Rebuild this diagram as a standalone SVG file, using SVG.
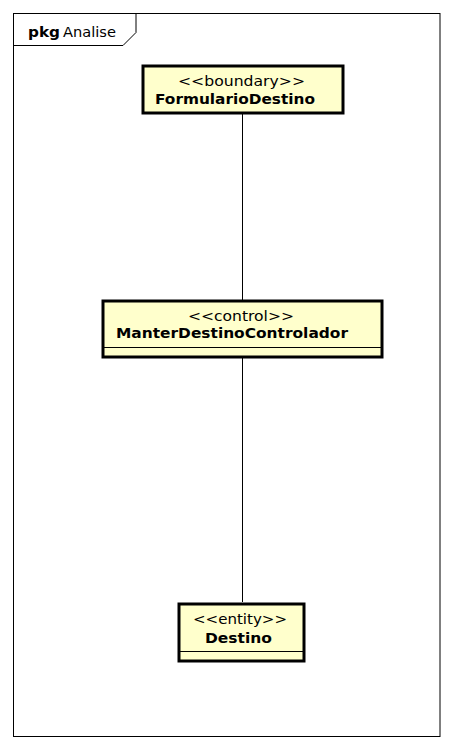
<svg xmlns="http://www.w3.org/2000/svg" width="453" height="750" viewBox="0 0 453 750">
<style>
.cls{fill:#ffffcc;stroke:#000;stroke-width:3}
.sep{stroke:#000;stroke-width:1}
.st{font-family:"DejaVu Sans",sans-serif;font-size:14px;fill:#000}
.nm{font-family:"DejaVu Sans",sans-serif;font-size:14px;font-weight:bold;fill:#000}
.conn{stroke:#000;stroke-width:1;fill:none}
</style>
<rect x="0" y="0" width="453" height="750" fill="#fff"/>
<g id="frame">
<rect x="13.5" y="13.5" width="426.5" height="723" fill="none" stroke="#000" stroke-width="1"/>
<path d="M13.5 45.5 H123 L136 32.5 V13.5" fill="none" stroke="#000" stroke-width="1"/>
<text class="nm" x="28" y="37" textLength="32" lengthAdjust="spacingAndGlyphs">pkg</text>
<text class="st" x="63" y="37" textLength="53" lengthAdjust="spacingAndGlyphs">Analise</text>
</g>
<g id="connectors">
<line class="conn" x1="242.5" y1="114" x2="242.5" y2="300"/>
<line class="conn" x1="242.5" y1="358" x2="242.5" y2="602"/>
</g>
<g id="FormularioDestino">
<rect class="cls" x="143" y="66" width="200" height="47"/>
<text class="st" x="178" y="86" textLength="127" lengthAdjust="spacingAndGlyphs">&lt;&lt;boundary&gt;&gt;</text>
<text class="nm" x="155" y="104" textLength="160" lengthAdjust="spacingAndGlyphs">FormularioDestino</text>
</g>
<g id="ManterDestinoControlador">
<rect class="cls" x="103" y="301" width="279" height="56"/>
<line class="sep" x1="103" y1="347.5" x2="382" y2="347.5"/>
<text class="st" x="188" y="320.5" textLength="106" lengthAdjust="spacingAndGlyphs">&lt;&lt;control&gt;&gt;</text>
<text class="nm" x="116" y="337.5" textLength="232" lengthAdjust="spacingAndGlyphs">ManterDestinoControlador</text>
</g>
<g id="Destino">
<rect class="cls" x="179" y="604" width="125" height="57"/>
<line class="sep" x1="179" y1="651.5" x2="304" y2="651.5"/>
<text class="st" x="193" y="624" textLength="94" lengthAdjust="spacingAndGlyphs">&lt;&lt;entity&gt;&gt;</text>
<text class="nm" x="205" y="643" textLength="67" lengthAdjust="spacingAndGlyphs">Destino</text>
</g>
</svg>
